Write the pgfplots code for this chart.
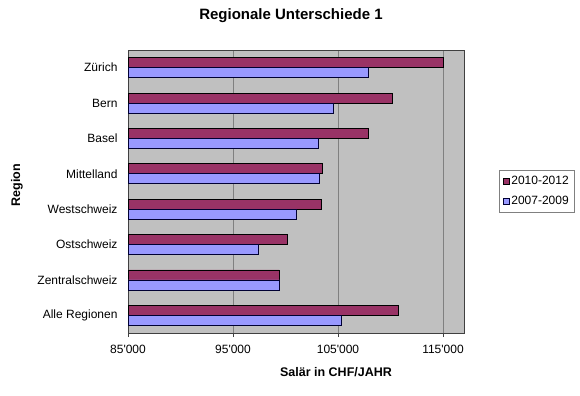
\documentclass[border=0pt]{standalone}
\usepackage{pgfplots}
\pgfplotsset{compat=1.18}
\usepackage{fontspec}
\setmainfont{Liberation Sans}
\definecolor{barred}{HTML}{993366}
\definecolor{barblue}{HTML}{9999FF}
\definecolor{plotbg}{HTML}{C0C0C0}
\definecolor{gridc}{HTML}{808080}
\definecolor{axisc}{HTML}{404040}
\begin{document}
\begin{tikzpicture}[x=1bp,y=1bp]
\useasboundingbox (0,0) rectangle (580,395);
\begin{axis}[
  at={(128bp,62bp)}, anchor=south west,
  scale only axis, width=336bp, height=283bp,
  xbar, bar width=10bp,
  xmin=85000, xmax=117000,
  ymin=-0.5, ymax=7.5,
  scaled x ticks=false,
  axis background/.style={fill=plotbg},
  axis line style={axisc, line width=0.6bp},
  xtick={85000,95000,105000,115000},
  xticklabels={85\textquotesingle 000,95\textquotesingle 000,105\textquotesingle 000,115\textquotesingle 000},
  ytick={0,1,2,3,4,5,6,7},
  yticklabels={Alle Regionen,Zentralschweiz,Ostschweiz,Westschweiz,Mittelland,Basel,Bern,Zürich},
  minor ytick={-0.5,0.5,...,7.5},
  xtick pos=bottom, ytick pos=left,
  tick align=outside,
  major tick length=4bp, minor tick length=4bp,
  ytick style={draw=none},
  minor tick style={axisc, line width=0.6bp},
  xtick style={axisc, line width=0.6bp},
  xmajorgrids, major grid style={gridc, line width=0.6bp},
  tick label style={font=\fontsize{12bp}{14bp}\selectfont},
  xticklabel style={yshift=-5bp},
  yticklabel style={xshift=-3bp},
  legend style={at={(1.104,0.576)}, anchor=north west, draw=gridc, line width=0.6bp,
    font=\fontsize{12bp}{14bp}\selectfont, row sep=6bp, inner xsep=4bp, inner ysep=4bp,
    cells={anchor=west}},
  legend image code/.code={\draw[#1, line width=0.5bp] (0bp,-2.8bp) rectangle (5.6bp,2.8bp);},
  legend cell align=left,
  clip=true,
]
\addplot[fill=barred, draw=black, line width=0.7bp, bar shift=5bp] coordinates {
  (110770,0) (99400,1) (100200,2) (103440,3) (103470,4) (107850,5) (110200,6) (115000,7)};
\addplot[fill=barblue, draw=black!80!blue, line width=0.7bp, bar shift=-5bp] coordinates {
  (105280,0) (99430,1) (97400,2) (101060,3) (103230,4) (103160,5) (104530,6) (107900,7)};
\legend{2010-2012,2007-2009}
\end{axis}
\node[font=\fontsize{15bp}{18bp}\selectfont\bfseries] at (291,379) {Regionale Unterschiede 1};
\node[font=\fontsize{12.5bp}{15bp}\selectfont\bfseries] at (336,23) {Salär in CHF/JAHR};
\node[font=\fontsize{12.5bp}{15bp}\selectfont\bfseries, rotate=90] at (17,210) {Region};
\end{tikzpicture}
\end{document}
